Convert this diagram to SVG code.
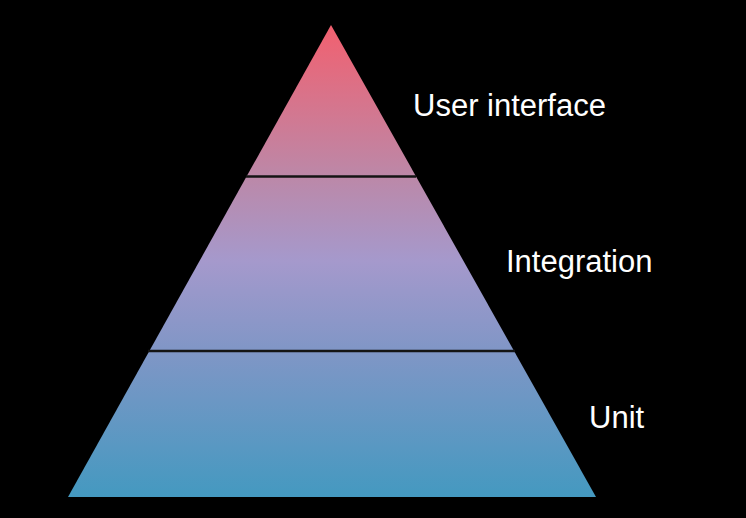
<svg xmlns="http://www.w3.org/2000/svg" width="746" height="518" viewBox="0 0 746 518">
  <defs>
    <linearGradient id="grad" gradientUnits="userSpaceOnUse" x1="0" y1="25" x2="0" y2="497">
      <stop offset="0" stop-color="#f2606f"/>
      <stop offset="0.32" stop-color="#bc88a8"/>
      <stop offset="0.5" stop-color="#a599cc"/>
      <stop offset="0.69" stop-color="#8096c6"/>
      <stop offset="1" stop-color="#4499c0"/>
    </linearGradient>
  </defs>
  <style>
    .label { font-family: "Liberation Sans", Arial, sans-serif; font-size: 31px; fill: #ffffff; }
    .divider { stroke: #141414; stroke-width: 2.5; }
  </style>
  <rect x="0" y="0" width="746" height="518" fill="#000000"/>
  <g id="pyramid">
    <polygon points="331,25 596,497 68,497" fill="url(#grad)"/>
  </g>
  <g id="connectors">
    <line class="divider" x1="246" y1="176.5" x2="416" y2="176.5"/>
    <line class="divider" x1="148" y1="351" x2="515" y2="351"/>
  </g>
  <g id="node-ui">
    <text class="label" x="413" y="116">User interface</text>
  </g>
  <g id="node-integration">
    <text class="label" x="506" y="272">Integration</text>
  </g>
  <g id="node-unit">
    <text class="label" x="589" y="428">Unit</text>
  </g>
</svg>
